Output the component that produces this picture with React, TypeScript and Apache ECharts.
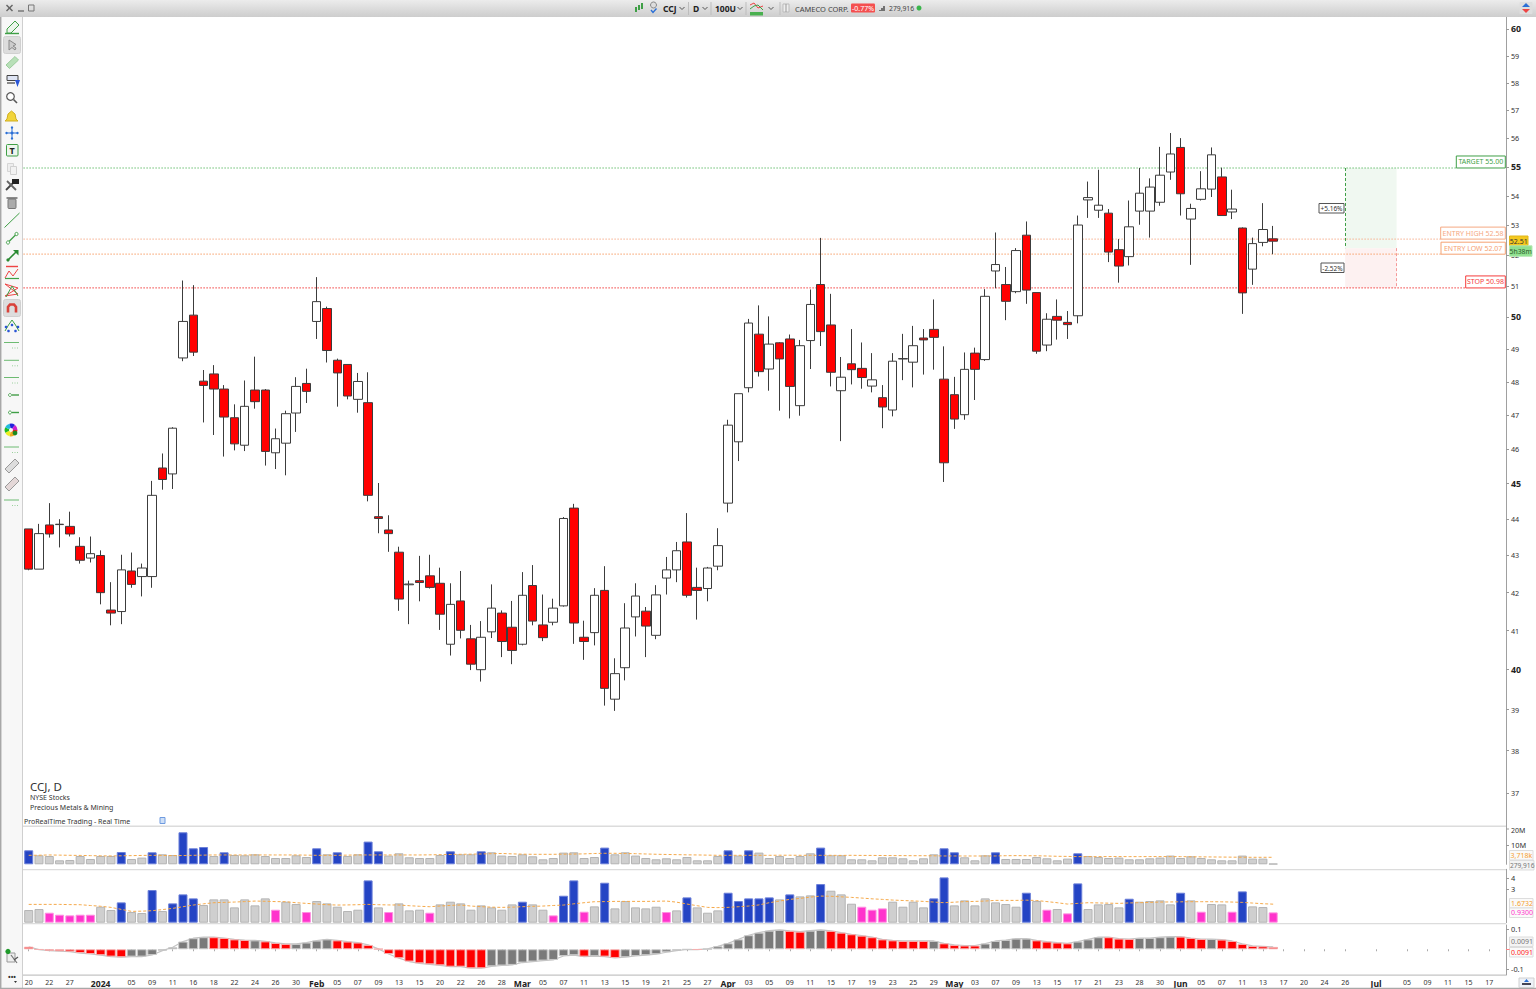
import React, { useEffect, useRef } from "react";
import * as echarts from "echarts";

// ---------- data ----------
const tickLabels = ['20','','22','','27','','','2024','','','05','','09','','11','','16','','18','','22','','24','','26','','30','','Feb','','05','','07','','09','','13','','15','','20','','22','','26','','28','','Mar','','05','','07','','11','','13','','15','','19','','21','','25','','27','','Apr','','03','','05','','09','','11','','15','','17','','19','','23','','25','','29','','May','','03','','07','','09','','13','','15','','17','','21','','23','','28','','30','','Jun','','05','','07','','11','','13','','17','','20','','24','','26','','','Jul','','','05','','09','','11','','15','','17',''];
const boldTicks = ['2024','Feb','Mar','Apr','May','Jun','Jul'];
const priceTicks = [37,38,39,40,41,42,43,44,45,46,47,48,49,50,51,52,53,54,55,56,57,58,59,60];
const boldPriceTicks = [40,45,50,55,60];

const opens = [43.73,42.63,43.84,43.85,43.80,43.25,42.93,43.00,41.54,41.50,42.58,42.43,42.43,45.45,45.28,48.73,50.07,48.02,48.24,47.78,46.92,46.11,47.75,47.75,45.89,46.17,47.06,47.95,49.87,50.28,48.66,48.53,47.47,47.37,44.07,43.70,43.09,42.21,42.32,42.45,42.25,40.65,41.78,40.79,40.00,40.97,41.46,41.09,40.65,42.19,41.15,41.22,41.65,44.31,40.83,40.95,42.06,39.26,40.05,41.36,41.51,40.88,42.39,42.61,43.37,42.14,42.11,42.71,44.45,46.21,47.82,49.47,48.39,49.20,49.32,47.28,49.27,51.05,49.76,47.73,48.55,48.41,47.87,47.52,47.15,48.70,48.60,49.35,49.62,48.08,47.61,47.01,48.88,48.68,51.49,51.05,50.82,52.67,50.79,49.13,50.03,49.84,50.05,53.86,53.51,53.41,52.19,51.96,53.48,53.48,53.78,54.82,55.68,53.21,53.88,54.23,54.65,53.45,52.91,51.55,52.43,52.55];
const closes = [42.63,43.60,43.59,43.86,43.59,42.87,43.05,42.00,41.46,42.61,42.22,42.66,44.67,45.12,46.61,49.87,48.91,47.89,47.78,46.94,46.15,47.26,47.40,45.93,46.30,47.04,47.86,47.71,50.50,48.96,48.27,47.57,48.01,44.67,44.02,43.60,41.83,42.23,42.27,42.14,41.43,41.69,41.01,40.14,40.83,41.59,40.72,40.49,41.93,41.25,40.82,41.59,44.02,41.20,40.72,41.93,39.53,39.90,41.07,41.91,41.12,41.94,42.61,43.13,41.93,42.06,42.66,43.27,46.70,47.64,49.82,48.31,49.16,48.70,47.86,49.11,50.41,49.55,48.29,48.14,48.37,48.13,48.06,47.24,48.63,48.71,49.11,49.29,49.37,45.60,46.88,48.38,48.38,50.67,51.70,50.51,52.16,50.87,48.94,49.94,49.91,49.77,53.01,53.94,53.68,52.11,51.65,52.95,54.09,54.30,54.71,55.45,54.07,53.57,54.24,55.42,53.33,53.55,50.78,52.39,52.86,52.47];
const lows = [42.60,42.63,43.49,43.22,43.52,42.78,42.81,41.69,41.14,41.17,42.13,41.90,42.13,44.83,44.85,48.63,48.79,46.78,46.41,45.78,45.96,45.94,47.19,45.52,45.42,45.24,46.50,47.36,49.32,48.59,47.25,47.47,47.07,44.50,43.61,43.10,41.52,41.17,41.77,42.11,41.02,40.36,40.80,39.99,39.70,40.81,40.32,40.14,40.62,41.14,40.73,41.14,41.63,40.66,40.25,40.62,39.10,38.97,39.73,40.85,40.32,40.78,41.95,42.28,41.87,41.29,41.77,42.60,44.19,45.65,47.68,48.16,47.73,47.13,46.90,46.98,48.39,49.10,47.86,46.23,47.92,47.79,47.68,46.61,46.96,48.05,47.83,48.22,48.37,45.05,46.59,46.86,47.45,48.64,50.93,49.91,50.77,50.43,48.86,48.94,49.30,49.32,49.81,53.25,53.25,51.78,51.11,51.67,53.02,52.59,53.66,54.55,53.33,51.69,53.84,53.96,53.33,53.21,50.11,51.04,52.30,52.04];
const highs = [43.73,43.87,44.45,44.00,44.21,43.50,43.52,43.14,42.28,43.02,43.08,42.78,45.08,45.87,46.64,51.18,51.03,48.36,48.51,47.90,47.32,48.04,48.77,47.78,46.60,47.13,48.14,48.40,51.29,50.34,48.71,48.53,48.27,48.29,45.02,44.11,43.24,42.32,42.99,43.02,42.67,42.25,42.58,41.15,41.25,42.22,41.53,41.78,42.55,42.74,41.95,41.84,44.06,44.43,41.26,42.12,42.71,40.29,41.72,42.25,41.62,42.20,42.96,43.37,44.17,42.67,42.69,43.75,46.86,47.64,49.95,50.38,50.03,49.22,49.46,49.29,50.89,52.58,50.75,48.76,49.63,49.21,48.88,47.90,48.88,49.48,49.73,49.63,50.57,49.09,48.15,48.90,49.05,50.90,52.76,51.62,52.24,53.13,50.79,50.13,50.57,50.20,53.33,54.49,54.90,53.55,52.54,53.84,54.96,54.60,55.70,56.19,56.01,53.73,54.85,55.68,54.97,54.21,52.93,52.59,53.75,52.98];

const volumeM = [7.25,4.66,4.30,2.07,2.23,4.30,2.75,4.30,4.30,6.37,2.75,3.47,6.22,5.18,4.82,16.58,8.29,8.96,4.30,6.22,4.82,4.66,5.18,4.30,3.26,3.26,4.66,3.78,8.29,5.18,6.22,4.30,5.18,11.76,6.74,4.51,5.70,3.63,3.26,3.26,4.82,6.74,5.18,5.18,6.74,6.22,4.51,4.30,5.18,4.15,2.59,3.26,6.06,6.22,3.26,3.78,8.65,5.18,6.22,4.51,3.26,2.59,3.11,2.59,3.78,2.07,2.07,4.30,7.25,4.51,7.25,6.06,3.26,4.30,3.26,4.30,5.70,8.65,4.66,4.66,2.59,2.59,2.07,3.63,3.63,3.11,2.07,3.11,5.18,8.29,6.22,3.63,2.07,4.66,6.22,2.75,2.75,2.75,3.78,3.11,2.07,2.95,5.70,4.30,3.78,3.26,3.47,2.59,2.59,3.11,3.47,4.51,3.26,4.15,3.26,2.59,2.07,2.07,4.51,2.95,2.95,0.28];
const volumeAvgM = [4.66,4.7,4.84,4.75,4.66,4.6,4.49,4.4,4.32,4.4,4.49,4.6,4.66,4.6,4.49,4.55,4.66,4.75,4.84,4.84,4.84,4.84,4.84,4.84,4.84,4.84,4.84,4.75,4.66,4.66,4.66,4.75,4.84,4.84,4.84,4.84,4.84,4.84,4.84,4.9,5.0,5.1,5.18,5.25,5.35,5.5,5.6,5.4,5.25,5.18,5.18,5.18,5.25,5.3,5.4,5.6,5.7,5.7,5.6,5.5,5.35,5.2,5.1,5.0,4.9,4.84,4.75,4.66,4.66,4.66,4.66,4.66,4.66,4.7,4.7,4.66,4.66,4.66,4.66,4.6,4.66,4.6,4.6,4.55,4.5,4.49,4.45,4.45,4.4,4.32,4.32,4.3,4.3,4.32,4.32,4.45,4.49,4.45,4.4,4.3,4.15,4.1,3.97,3.97,3.97,4.0,4.0,3.97,3.97,4.0,4.0,4.0,3.97,3.9,3.85,3.8,3.75,3.7,3.65,3.63,3.63,3.63];
const volumeBlue = [0,9,12,15,16,17,19,28,30,33,34,41,44,56,68,70,77,89,90,94,102];

const relVolume = [1.14,1.23,.90,.72,.66,.72,.72,1.44,1.14,1.83,.96,.87,2.94,1.05,1.74,2.55,2.19,1.59,2.10,2.10,1.38,2.10,1.56,2.19,1.17,1.89,1.68,.96,1.95,1.74,1.44,1.05,1.17,3.81,1.38,.96,1.74,1.11,1.17,.90,1.65,1.89,1.74,1.17,1.56,1.38,1.17,1.65,1.89,1.65,1.17,.66,2.43,3.81,.99,1.47,3.60,1.29,1.95,1.38,1.29,1.44,.96,1.11,2.28,1.38,.90,1.11,2.70,1.95,2.19,2.19,2.28,2.10,2.55,2.37,2.46,3.48,2.88,2.55,1.71,1.44,1.17,1.29,1.89,1.44,1.89,1.38,2.19,4.08,1.56,2.01,1.56,2.19,1.83,1.68,1.44,2.70,1.95,1.17,1.23,.84,3.54,1.23,1.65,1.68,1.38,2.16,1.89,1.95,2.01,1.65,2.70,2.01,.99,1.68,1.65,.99,2.82,1.47,1.41,.93];
const relVolumeAvg = [1.65,1.65,1.65,1.65,1.63,1.62,1.55,1.48,1.38,1.2,1.02,1.04,1.08,1.18,1.29,1.44,1.59,1.7,1.8,1.83,1.86,1.9,1.95,1.93,1.9,1.89,1.8,1.74,1.68,1.62,1.59,1.6,1.62,1.65,1.62,1.6,1.59,1.53,1.48,1.44,1.5,1.56,1.59,1.5,1.44,1.4,1.38,1.4,1.44,1.47,1.5,1.55,1.59,1.7,1.8,1.89,1.9,1.92,1.92,1.92,1.92,1.93,1.95,1.85,1.68,1.53,1.38,1.36,1.38,1.44,1.5,1.6,1.8,1.95,2.1,2.19,2.3,2.4,2.38,2.33,2.28,2.22,2.15,2.1,2.04,2.0,1.96,1.92,1.86,1.8,1.85,1.9,1.92,1.95,2.01,2.01,2.01,2.03,2.0,1.9,1.8,1.68,1.74,1.8,1.78,1.76,1.74,1.78,1.8,1.83,1.86,1.87,1.88,1.89,1.89,1.89,1.88,1.86,1.83,1.77,1.71,1.67];
const relVolumeBlue = [9,12,14,15,16,33,48,52,53,56,64,68,69,70,71,72,74,77,88,89,97,102,107,112,118];
const relVolumePink = [2,3,4,5,6,24,27,35,39,51,54,62,81,82,83,99,101,114,117,121];

const histogram = [.013,-.002,-.007,-.01,-.012,-.019,-.024,-.03,-.037,-.04,-.037,-.037,-.029,-.007,.01,.039,.056,.061,.061,.057,.05,.047,.045,.04,.032,.027,.027,.034,.044,.05,.045,.039,.034,.022,.002,-.024,-.045,-.062,-.071,-.076,-.081,-.088,-.088,-.096,-.096,-.086,-.082,-.079,-.067,-.062,-.057,-.054,-.034,-.03,-.037,-.035,-.037,-.044,-.04,-.034,-.03,-.025,-.015,-.007,-.001,-.002,.002,.015,.03,.05,.071,.084,.094,.098,.093,.089,.094,.098,.093,.084,.076,.069,.061,.05,.045,.042,.042,.042,.042,.03,.022,.019,.019,.029,.042,.047,.054,.054,.045,.039,.034,.03,.039,.05,.061,.061,.054,.052,.057,.057,.061,.064,.064,.057,.052,.052,.049,.042,.027,.017,.015,.012];
const histogramRed = [0,1,2,3,4,5,6,7,8,9,18,19,20,21,23,24,25,30,31,32,33,34,35,36,37,38,39,40,41,42,43,44,54,56,57,65,74,75,78,79,80,81,82,83,84,85,86,87,89,90,91,92,98,99,100,101,105,106,107,112,113,114,116,117,118,119,120,121];

// horizontal levels as they sit in the picture (the tags give the nominal prices)
const levelPrices = [54.96, 52.54, 52.04, 50.94];
const levelTexts = ["TARGET 55.00", "ENTRY HIGH 52.58", "ENTRY LOW 52.07", "STOP 50.98"];
const levelColors = ["#3f9f46", "#f5a882", "#f5a273", "#f53c3c"];
const levelLineColors = ["#46b04f", "#f7b090", "#f7a06a", "#f23c3c"];
const rewardTop = 54.96, zoneMid = 52.24, riskBottom = 50.94;
const zoneFrom = 128, zoneTo = 133;

const FONT = '"Noto Sans", "Open Sans", sans-serif';
const PRICE_MIN = 36.23, PRICE_MAX = 60.475;
const BAND = 10.285, GRID_LEFT = 23.56, CATS = tickLabels.length;
const GRID_W = BAND * CATS;
const ln = (p: number) => Math.log(p);

// ---------- helpers for the window furniture ----------
const T = (text: string, x: number, y: number, size: number, fill: string, o: any = {}) => ({
  type: "text", x, y, silent: true, z: 20,
  style: { text, fill, font: `${o.w || "normal"} ${size}px ${o.f || FONT}`, textAlign: o.a || "left", textVerticalAlign: "middle" },
});
const Ln = (x1: number, y1: number, x2: number, y2: number, stroke: string, lineWidth = 1, lineDash?: number[]) => ({
  type: "line", silent: true, z: 18, shape: { x1, y1, x2, y2 }, style: { stroke, lineWidth, lineDash },
});
const Rc = (x: number, y: number, width: number, height: number, fill: any, stroke?: string, r = 0, z = 18) => ({
  type: "rect", silent: true, z, shape: { x, y, width, height, r }, style: { fill, stroke, lineWidth: 1 },
});
const Pg = (points: number[][], fill: string, stroke?: string) => ({
  type: "polygon", silent: true, z: 19, shape: { points }, style: { fill, stroke, lineWidth: 1 },
});
const Pl = (points: number[][], stroke: string, lineWidth = 1) => ({
  type: "polyline", silent: true, z: 19, shape: { points }, style: { stroke, lineWidth, fill: "none" },
});
const Ci = (cx: number, cy: number, r: number, fill: string, stroke?: string, lineWidth = 1) => ({
  type: "circle", silent: true, z: 19, shape: { cx, cy, r }, style: { fill, stroke, lineWidth },
});
const Se = (cx: number, cy: number, r: number, a0: number, a1: number, fill: string) => ({
  type: "sector", silent: true, z: 19, shape: { cx, cy, r, r0: 2, startAngle: a0, endAngle: a1 }, style: { fill },
});

const GREEN = "#3f9f46";
const toolLine = (y: number) => [Ln(4, y, 19, y, "#6dbb72", 1), Ln(12, y + 5.5, 19, y + 5.5, "#9ad09d", 1, [1, 1.5])];
const ruler = (y: number, fill: string) => Pg([[5, y + 4], [15, y - 6], [19, y - 2], [9, y + 8]], fill, "#999");

function furniture(): any[] {
  const wheel = [["#e22", 0], ["#ea2", 1], ["#ee2", 2], ["#2b2", 3], ["#2bd", 4], ["#22d", 5], ["#c2c", 6]].map(([c, i]: any) =>
    Se(11, 430, 6.5, (i * 2 * Math.PI) / 7, ((i + 1) * 2 * Math.PI) / 7, c));
  return [
    // window frame
    Rc(0, 17, 22.5, 972, "#f7f7f7", undefined, 0, 10),
    Ln(22.5, 17, 22.5, 989, "#cfcfcf", 1),
    Ln(0.7, 17, 0.7, 989, "#a8a8a8", 1.5),
    Rc(0, 0, 1536, 17, { type: "linear", x: 0, y: 0, x2: 0, y2: 1, colorStops: [{ offset: 0, color: "#ececec" }, { offset: 1, color: "#cdcdcd" }] }, undefined, 0, 10),
    Ln(0, 988.3, 1536, 988.3, "#a8a8a8", 1.2),
    // panel separators
    Ln(23, 826.3, 1506, 826.3, "#dcdcdc", 1.4),
    Ln(23, 869.6, 1506, 869.6, "#dcdcdc", 1.4),
    Ln(23, 923.6, 1506, 923.6, "#dcdcdc", 1.4),
    Ln(23, 975.2, 1506, 975.2, "#c4c4c4", 1.2),
    // title bar, left
    Ln(6.5, 5, 12.5, 11, "#666", 1.5), Ln(12.5, 5, 6.5, 11, "#666", 1.5),
    Ln(18, 11, 24, 11, "#777", 1.5),
    Rc(28.5, 5, 5.5, 6, "none", "#777"),
    // title bar, centre
    Ln(636, 7, 636, 12, GREEN, 2), Ln(639, 5, 639, 10, GREEN, 2), Ln(642, 3, 642, 9, GREEN, 2),
    Ci(653.5, 5, 3, "#ddd", "#888"), Pl([[651, 10], [653, 12.5], [656.5, 8.5]], "#2a6fd6", 1.4),
    T("CCJ", 663, 8.5, 8.5, "#222", { w: "bold" }),
    T("D", 693, 8.5, 8.5, "#222", { w: "bold" }),
    T("100U", 715, 8.5, 8.5, "#222", { w: "bold" }),
    ...[682, 705, 740, 771].map((x) => Pl([[x - 2.5, 7], [x, 9.5], [x + 2.5, 7]], "#555", 1)),
    Ln(688.5, 2, 688.5, 15, "#bdbdbd"), Ln(711, 2, 711, 15, "#bdbdbd"), Ln(746, 2, 746, 15, "#bdbdbd"), Ln(780, 2, 780, 15, "#bdbdbd"),
    Rc(750, 12, 13, 3.5, "#49b04f"), Pl([[750, 5], [754, 3], [758, 8], [763, 6]], "#e44", 1), Pl([[750, 9], [754, 6], [758, 5], [763, 10]], GREEN, 1),
    Rc(783, 4, 6, 8, "#eee", "#bbb"), Ln(786, 4, 786, 12, "#999"),
    T("CAMECO CORP.", 795, 8.5, 7.5, "#444"),
    Rc(851, 3.5, 24, 9, "#f44f4f", undefined, 1),
    T("-0.77%", 863, 8.2, 7, "#fff", { a: "center" }),
    Ln(880, 11, 880, 10, "#444", 1.4), Ln(882, 11, 882, 8, "#444", 1.4), Ln(884, 11, 884, 6, "#444", 1.4),
    T("279,916", 889, 8.5, 6.8, "#444"),
    Ci(919, 8, 2.5, "#39b54a"),
    // title bar, right
    Rc(1519.5, 2, 13, 12, "#dedede", undefined, 1),
    Pg([[1526, 3], [1530, 7], [1522, 7]], "#2a6fd6"), Pg([[1526, 13], [1530, 9], [1522, 9]], "#e44"),
    // left tool column
    Pg([[7, 29], [15, 21], [19, 25], [11, 33], [7, 33]], "#eaf5ea", GREEN), Ln(5, 33.5, 19, 33.5, GREEN, 1.4),
    Rc(3.5, 36.5, 17, 17, "#dddddd", "#d0d0d0", 2), Pg([[9, 40], [9, 50], [12, 47.5], [15, 50], [16, 48], [13, 46], [16, 44.5]], "#ccc", "#888"),
    Pg([[6, 65], [15, 56.5], [18.5, 60], [9.5, 68.5]], "#b8e0b8", "#9ccc9c"),
    Rc(7, 75.5, 11, 5, "#dfe5f4", "#444"), Ln(7, 83, 15, 83, "#888", 2), Pg([[15, 80], [20, 80], [17.5, 87]], "#2a55d6"),
    Ci(10.5, 96.5, 3.8, "#fff", "#555", 1.2), Ln(13.5, 99.5, 17, 103, "#555", 1.6),
    Pg([[11.5, 111], [15, 114], [16, 119], [18, 121], [5, 121], [7, 119], [8, 114]], "#f1d43a", "#d0ae20"),
    Ln(12, 127, 12, 139, "#2a6fd6", 1), Ln(6, 133, 18, 133, "#2a6fd6", 1), Ci(12, 133, 1.5, "#2a6fd6"), Ci(12, 127.5, 1.2, "#2a6fd6"), Ci(12, 138.5, 1.2, "#2a6fd6"), Ci(6.5, 133, 1.2, "#2a6fd6"), Ci(17.5, 133, 1.2, "#2a6fd6"),
    Rc(6.5, 144.5, 11.5, 11.5, "#eef6ee", GREEN, 1), T("T", 12.2, 150.5, 9, "#222", { w: "bold", a: "center" }),
    Rc(7.5, 163.5, 6, 8, "#eee", "#d5d5d5"), Rc(10.5, 166.5, 6, 8, "#f2f2f2", "#d0d0d0"),
    Ln(6, 190, 15, 181, "#444", 1.8), Ln(7, 181, 16, 190, "#666", 1.8), Rc(12, 179, 7, 5, "#222"),
    Rc(8, 199, 8, 9.5, "#aaa", "#777", 1), Ln(6.5, 198, 17.5, 198, "#666", 1.5),
    Ln(4.5, 227.5, 19.5, 213, GREEN, 1),
    Ln(8, 242.5, 16.5, 234, GREEN, 1.2), Ci(8, 242.5, 1.6, "#fff", GREEN), Ci(16.5, 234, 1.6, "#fff", GREEN),
    Ln(8, 260, 16, 252, "#2a8a32", 1.6), Ci(8, 260, 1.6, "#2a8a32"), Pg([[13, 250], [18.5, 250], [18.5, 255.5]], "#2a8a32"),
    Ln(6, 266.5, 18, 266.5, "#e44", 1.4), Pl([[5, 278], [9, 271], [13, 276], [18, 269]], "#e44", 1), Ln(5, 278.5, 19, 278.5, GREEN, 1.2),
    Pl([[5, 284], [18, 288], [5, 296], [18, 294], [5, 284]], "#e44", 1), Pl([[6, 297], [12, 286], [18, 296]], GREEN, 1),
    Rc(3.5, 299.5, 17, 17, "#dddddd", "#d0d0d0", 2), Pl([[8, 312.5], [8, 307], [10, 304.5], [14, 304.5], [16, 307], [16, 312.5]], "#d9423a", 2.6),
    Pl([[5, 331], [8.5, 325], [12, 320], [15.5, 325], [19, 331]], GREEN, 1), ...[[6, 327], [12, 325], [18, 327], [8.5, 331], [15.5, 331]].map(([a, b]) => Ci(a, b, 1.3, "#2a55d6")),
    ...toolLine(342.5), ...toolLine(360.3), ...toolLine(377.5),
    Ci(10, 395, 1.5, "#fff", "#5aa85e"), Ln(12, 395, 19, 395, "#5aa85e", 1.6),
    Ci(10, 412.5, 1.5, "#fff", GREEN), Ln(12, 412.5, 19, 412.5, GREEN, 1.4),
    ...wheel, Ci(15, 433, 2.4, "#1a8a20"),
    ...toolLine(447),
    ruler(465, "#ddd"), ruler(483, "#e4d8d8"),
    ...toolLine(500),
    // lower-left icons
    Rc(7, 953, 8, 9, "#eee", "#999"), Ci(8, 951.5, 2.6, "#1f9a2a"), Ln(11, 955, 17, 963, "#777", 1.2), Ln(14, 960, 18, 957, "#555", 1.2),
    T("•••", 12, 977.5, 7, "#333", { a: "center", w: "bold" }), Pg([[14, 981], [17, 981], [15.5, 983]], "#333"),
    // chart caption
    T("CCJ, D", 30, 786, 11.5, "#333"),
    T("NYSE Stocks", 30, 797.5, 7, "#333"),
    T("Precious Metals & Mining", 30, 807.5, 7, "#333"),
    T("ProRealTime Trading - Real Time", 24, 821.5, 7, "#333"),
    Rc(160, 817.5, 5, 6, "#cfe0f7", "#6f9be0"),
    // % tags
    Rc(1319, 203.5, 25, 9.5, "#fff", "#555"), T("+5.16%", 1331.5, 208.5, 6.5, "#333", { a: "center" }),
    Rc(1321, 263, 23, 9.5, "#fff", "#555"), T("-2.52%", 1332.5, 268, 6.5, "#333", { a: "center" }),
    // right tags
    Rc(1509.5, 236, 18.5, 9.5, "#f4c81e", "#e0b61a"), T("52.51", 1518.7, 241, 7, "#333", { a: "center" }),
    Rc(1509.5, 245.8, 22.5, 10.5, "#8fe08f", "#b6e8b6"), T("5h38m", 1520.7, 251.3, 6.8, "#2a5a2a", { a: "center" }),
    T("20M", 1511, 830.7, 7, "#333"), Ln(1506, 829, 1509, 829, "#999"),
    Rc(1509.5, 850.5, 23.5, 9.5, "#fafafa", "#ddd"), T("3,718k", 1510.5, 855.5, 7, "#f5a030"),
    Rc(1509.5, 860.5, 24.5, 9.5, "#f4f4f4", "#ddd"), T("279,916", 1510, 865.5, 6.6, "#777"),
    Rc(1509.5, 898.5, 23.5, 9.5, "#fafafa", "#ddd"), T("1.6732", 1511, 903.3, 7, "#f5a030"),
    Rc(1509.5, 908, 23.5, 9.5, "#fafafa", "#ddd"), T("0.9300", 1511, 912.8, 7, "#ff33cc"),
    Rc(1509.5, 937, 23.5, 9.5, "#f4f4f4", "#ddd"), T("0.0091", 1511, 941.7, 7, "#777"),
    Rc(1509.5, 947.5, 23.5, 9.5, "#fafafa", "#ddd"), T("0.0091", 1511, 952.3, 7, "#ff1a1a"),
    Ln(1506, 949.5, 1509.5, 949.5, "#ff8080", 1),
    // lower-right button
    Rc(1519, 978, 15, 9.5, "#eef2f8", "#d0d0d0"), Pg([[1526.5, 979], [1529, 982], [1524, 982]], "#2a6fd6"), Rc(1522, 983, 9, 2, "#445"),
  ];
}

function App() {
  const ref = useRef<HTMLDivElement>(null);
  useEffect(() => {
    document.body.style.margin = "0";
    document.body.style.background = "#fff";
    const chart = echarts.init(ref.current!, undefined, { renderer: "svg" });
    const candles = opens.map((o, i) => [ln(o), ln(closes[i]), ln(lows[i]), ln(highs[i])]);
    const grids = [
      { top: 17, height: 809 },
      { top: 826, height: 38.3 },
      { top: 869.3, height: 53.4 },
      { top: 925, height: 50 },
    ].map((g) => ({ left: GRID_LEFT, width: GRID_W, ...g, containLabel: false }));
    const showTick = (_: number, v: string) => v !== "";
    const xAxes = grids.map((_, i) => ({
      type: "category", gridIndex: i, data: tickLabels, boundaryGap: true,
      axisLine: { show: false },
      axisTick: i === 3 ? { show: true, interval: showTick, alignWithLabel: true, length: 2, lineStyle: { color: "#aaa" } } : { show: false },
      splitLine: { show: false },
      axisLabel: i === 3 ? {
        show: true, interval: showTick, margin: 4, hideOverlap: false,
        formatter: (v: string) => (boldTicks.includes(v) ? `{b|${v}}` : `{n|${v}}`),
        rich: {
          b: { fontFamily: FONT, fontWeight: "bold", fontSize: 8.6, color: "#222" },
          n: { fontFamily: FONT, fontSize: 7, color: "#333" },
        },
      } : { show: false },
    }));
    const yBase = {
      type: "value", offset: 1.4, position: "right", splitLine: { show: false }, scale: false,
      axisLine: { show: true, onZero: false, lineStyle: { color: "#a0a0a0" } },
    };
    const smallLabel = { margin: 5, fontFamily: FONT, fontSize: 7.4, color: "#333" };
    const yAxes = [
      {
        ...yBase, gridIndex: 0, min: ln(PRICE_MIN), max: ln(PRICE_MAX),
        axisTick: { show: true, length: 3, customValues: priceTicks.map(ln), lineStyle: { color: "#999" } },
        axisLabel: {
          margin: 5, customValues: priceTicks.map(ln),
          formatter: (v: number) => {
            const p = Math.round(Math.exp(v));
            return boldPriceTicks.includes(p) ? `{b|${p}}` : `{n|${p}}`;
          },
          rich: {
            b: { fontFamily: FONT, fontWeight: "bold", fontSize: 8.8, color: "#222" },
            n: { fontFamily: FONT, fontSize: 7.2, color: "#333" },
          },
        },
      },
      {
        ...yBase, gridIndex: 1, min: 0, max: 19.84,
        axisTick: { show: true, length: 3, customValues: [10], lineStyle: { color: "#999" } },
        axisLabel: { ...smallLabel, customValues: [10], formatter: (v: number) => `${v}M` },
      },
      {
        ...yBase, gridIndex: 2, min: 0, max: 4.81,
        axisTick: { show: true, length: 3, customValues: [3, 4], lineStyle: { color: "#999" } },
        axisLabel: { ...smallLabel, customValues: [3, 4], formatter: (v: number) => `${v}` },
      },
      {
        ...yBase, gridIndex: 3, min: -0.13, max: 0.1227,
        axisTick: { show: true, length: 3, customValues: [-0.1, 0.1], lineStyle: { color: "#999" } },
        axisLabel: { ...smallLabel, customValues: [-0.1, 0.1], formatter: (v: number) => `${v}` },
      },
    ];
    const GRAY = { color: "#cfcfcf", borderColor: "#b4b4b4", borderWidth: 1 };
    const BLUE = { color: "#2444c4", borderColor: "#6b7fd8", borderWidth: 1 };
    const PINK = { color: "#ff33cc", borderColor: "#ff90e0", borderWidth: 1 };
    const HGRAY = { color: "#7a7a7a", borderColor: "#c8c8c8", borderWidth: 1 };
    const HRED = { color: "#ff0000", borderColor: "#f4b0b0", borderWidth: 1 };
    const avgLine = (data: number[], idx: number) => ({
      type: "line", xAxisIndex: idx, yAxisIndex: idx, data, symbol: "none", silent: true, z: 5,
      lineStyle: { color: "#f5a94a", width: 1, type: [3, 2] },
    });
    chart.setOption({
      animation: false,
      backgroundColor: "#ffffff",
      grid: grids,
      xAxis: xAxes,
      yAxis: yAxes,
      series: [
        {
          type: "custom", xAxisIndex: 0, yAxisIndex: 0, z: 1, silent: true,
          data: levelPrices.map((p) => [0, ln(p)]),
          encode: { x: 0, y: 1 },
          renderItem: (params: any, api: any) => {
            const i = params.dataIndex;
            const y = api.coord([0, api.value(1)])[1];
            const tagRight = 1505.3;
            const tagLeft = [1456.3, 1440.7, 1441, 1465.7][i];
            return {
              type: "group",
              children: [
                { type: "line", shape: { x1: 23.5, y1: y, x2: tagLeft, y2: y }, style: { stroke: levelLineColors[i], lineWidth: 1.2, lineDash: [1.2, 1.8] } },
                { type: "rect", shape: { x: tagLeft, y: y - 12, width: tagRight - tagLeft, height: 12 }, style: { fill: "#fff", stroke: levelColors[i], lineWidth: 1 } },
                { type: "text", style: { x: (tagLeft + tagRight) / 2, y: y - 6, text: levelTexts[i], fill: levelColors[i], font: `7px ${FONT}`, textAlign: "center", textVerticalAlign: "middle" } },
              ],
            };
          },
        },
        {
          type: "candlestick", xAxisIndex: 0, yAxisIndex: 0, z: 3, silent: true,
          data: candles, barWidth: 9,
          itemStyle: { color: "#ffffff", color0: "#ff0000", borderColor: "#3c3c3c", borderColor0: "#3c3c3c", borderWidth: 1 },
          markArea: {
            silent: true,
            data: [
              [{ xAxis: zoneFrom, yAxis: ln(rewardTop), itemStyle: { color: "#f0f8f1" } }, { xAxis: zoneTo, yAxis: ln(zoneMid) }],
              [{ xAxis: zoneFrom, yAxis: ln(zoneMid), itemStyle: { color: "#fdf1f1" } }, { xAxis: zoneTo, yAxis: ln(riskBottom) }],
            ],
          },
          markLine: {
            silent: true, symbol: "none", label: { show: false },
            data: [
              [{ coord: [zoneFrom, ln(rewardTop)], lineStyle: { color: "#3f9f46", type: [3, 2], width: 1 } }, { coord: [zoneFrom, ln(zoneMid)] }],
              [{ coord: [zoneTo, ln(zoneMid)], lineStyle: { color: "#f59a9a", type: [3, 2], width: 1 } }, { coord: [zoneTo, ln(riskBottom)] }],
            ],
          },
        },
        {
          type: "bar", xAxisIndex: 1, yAxisIndex: 1, barWidth: 9, silent: true,
          data: volumeM.map((v, i) => ({ value: v, itemStyle: volumeBlue.includes(i) ? BLUE : GRAY })),
        },
        avgLine(volumeAvgM, 1),
        {
          type: "bar", xAxisIndex: 2, yAxisIndex: 2, barWidth: 9, silent: true,
          data: relVolume.map((v, i) => ({ value: v, itemStyle: relVolumeBlue.includes(i) ? BLUE : relVolumePink.includes(i) ? PINK : GRAY })),
        },
        avgLine(relVolumeAvg, 2),
        {
          type: "bar", xAxisIndex: 3, yAxisIndex: 3, barWidth: 9.6, silent: true,
          data: histogram.map((v, i) => ({ value: v, itemStyle: histogramRed.includes(i) ? HRED : HGRAY })),
        },
        {
          type: "line", xAxisIndex: 3, yAxisIndex: 3, data: histogram, symbol: "none", silent: true, z: 1,
          lineStyle: { color: "#c4c4c4", width: 1.2 },
        },
      ],
      graphic: { elements: furniture() },
    });
    return () => chart.dispose();
  }, []);
  return <div ref={ref} style={{ position: "absolute", left: 0, top: 0, width: 1536, height: 989 }} />;
}

export default App;
